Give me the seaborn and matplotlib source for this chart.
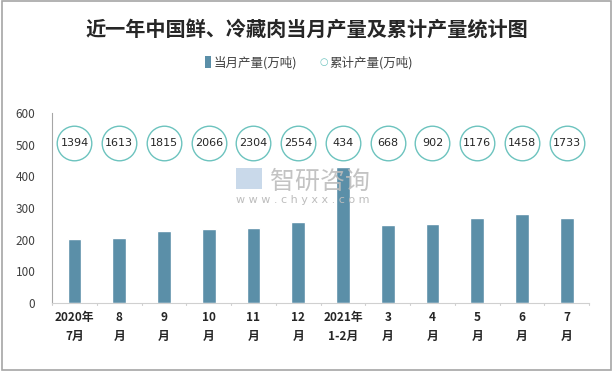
import matplotlib.pyplot as plt
import seaborn as sns
import pandas as pd
from matplotlib.patches import Rectangle

categories = ["2020年\n7月", "8\n月", "9\n月", "10\n月", "11\n月", "12\n月",
              "2021年\n1-2月", "3\n月", "4\n月", "5\n月", "6\n月", "7\n月"]
monthly = [202, 205, 227, 234, 237, 256, 430, 246, 249, 268, 281, 268]
cumulative = [1394, 1613, 1815, 2066, 2304, 2554, 434, 668, 902, 1176, 1458, 1733]

sns.set_style("white")
plt.rcParams['font.family'] = ['Noto Sans CJK SC', 'DejaVu Sans']

df = pd.DataFrame({"month": categories, "value": monthly})

fig = plt.figure(figsize=(6.13, 3.71), dpi=100)
fig.patches.append(Rectangle((0.003, 0.003), 0.994, 0.994, transform=fig.transFigure,
                             fill=False, edgecolor="#A6A6A6", linewidth=1.2))
ax = fig.add_axes([0.085, 0.183, 0.876, 0.512])

sns.barplot(data=df, x="month", y="value", color="#5B8FA8", width=0.31,
            saturation=1, ax=ax)

# cumulative values shown as hollow circles with labels
circle_y = 507
ax.scatter(range(len(categories)), [circle_y] * len(categories), s=620,
           facecolors="white", edgecolors="#6CC3BE", linewidths=1.0, zorder=3)
for i, v in enumerate(cumulative):
    ax.text(i, circle_y, str(v), ha="center", va="center", fontsize=8,
            color="#262626", zorder=4, family=['DejaVu Sans'])

ax.set_ylim(0, 600)
ax.set_xlim(-0.5, len(categories) - 0.5)
ax.set_yticks(range(0, 601, 100))
ax.set_xlabel("")
ax.set_ylabel("")
ax.tick_params(axis="y", labelsize=8.5, colors="#404040", length=0, pad=12)
ax.tick_params(axis="x", labelsize=8.5, length=0, pad=6)
for lab in ax.get_xticklabels():
    lab.set_fontweight("bold")
    lab.set_color("#262626")
    lab.set_linespacing(1.6)
for t in range(len(categories) + 1):
    ax.plot([t - 0.5, t - 0.5], [0, -6], color="#D0D0D0", lw=0.8, clip_on=False)

for s in ["top", "right"]:
    ax.spines[s].set_visible(False)
ax.spines["left"].set_color("#A6A6A6")
ax.spines["bottom"].set_color("#D0D0D0")

# watermark
fig.text(0.44, 0.51, "智研咨询", fontsize=18, color="#BDBDBD", alpha=0.9,
         ha="left", va="center")
fig.text(0.385, 0.462, "w w w . c h y x x . c o m", fontsize=8, color="#BDBDBD",
         ha="left", va="center", family=['DejaVu Sans'])
fig.patches.append(Rectangle((0.385, 0.49), 0.042, 0.058, transform=fig.transFigure,
                             facecolor="#C9D9EA", edgecolor="none"))

fig.suptitle("近一年中国鲜、冷藏肉当月产量及累计产量统计图", y=0.95, fontsize=14.5,
             fontweight="bold", color="#262626")

# legend
fig.patches.append(Rectangle((0.334, 0.818), 0.011, 0.03, transform=fig.transFigure,
                             facecolor="#5B8FA8", edgecolor="none"))
fig.text(0.349, 0.832, "当月产量(万吨)", fontsize=9, color="#404040", va="center")
fig.text(0.522, 0.832, "○", fontsize=7, color="#6CC3BE", va="center", family=['DejaVu Sans'])
fig.text(0.538, 0.832, "累计产量(万吨)", fontsize=9, color="#404040", va="center")

fig.savefig("out.png", dpi=100)
